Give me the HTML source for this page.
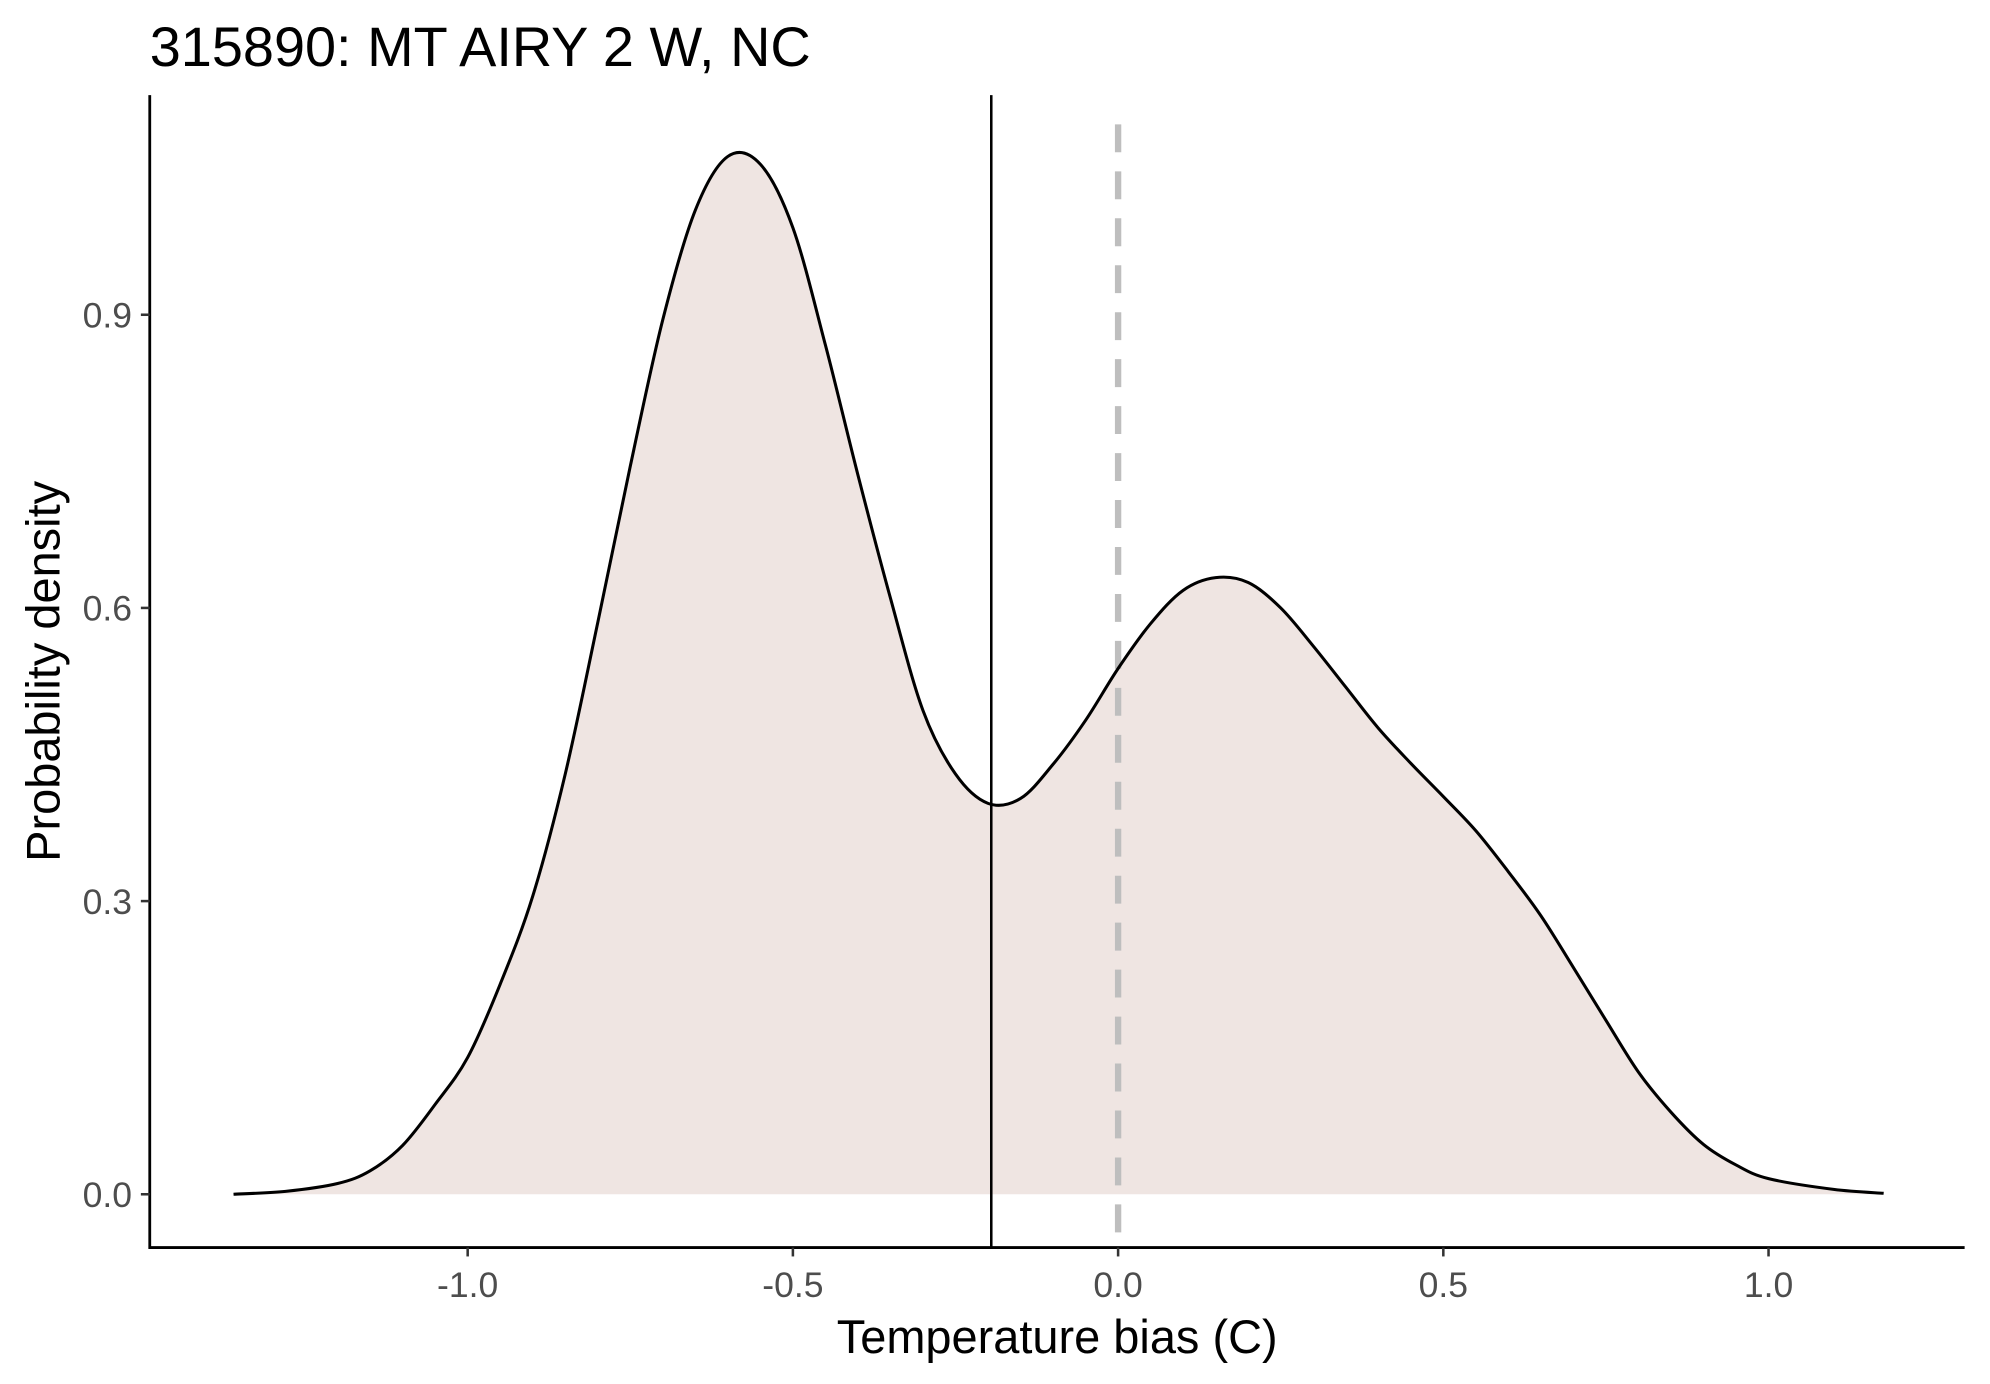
<!DOCTYPE html>
<html><head><meta charset="utf-8"><style>
html,body{margin:0;padding:0;background:#fff;}
svg{display:block;}
text{font-family:"Liberation Sans",Arial,sans-serif;}
</style></head>
<body>
<svg id="chart" width="1990" height="1384" viewBox="0 0 1568 1090.5" preserveAspectRatio="none" xmlns="http://www.w3.org/2000/svg">
<rect width="1568" height="1090.5" fill="#fff"/>
<text x="118" y="52" font-size="44" fill="#000">315890: MT AIRY 2 W, NC</text>
<g id="plot"></g>
<text x="833" y="1066" font-size="37" text-anchor="middle" fill="#000">Temperature bias (C)</text>
<text transform="translate(47,529) rotate(-90)" font-size="37" text-anchor="middle" fill="#000">Probability density</text>
</svg>
<script>
const xs = [-1.36,-1.28,-1.2,-1.15,-1.1,-1.05,-1.0,-0.95,-0.9,-0.85,-0.8,-0.75,-0.7,-0.65,-0.6,-0.55,-0.5,-0.45,-0.4,-0.35,-0.3,-0.25,-0.2,-0.15,-0.1,-0.05,0,0.05,0.1,0.15,0.2,0.25,0.3,0.35,0.4,0.45,0.5,0.55,0.6,0.65,0.7,0.75,0.8,0.85,0.9,0.95,1.0,1.1,1.177];
const ys = [0.0,0.003,0.011,0.024,0.05,0.092,0.14,0.215,0.305,0.43,0.585,0.745,0.895,1.007,1.062,1.054,0.989,0.869,0.736,0.61,0.495,0.43,0.40,0.405,0.44,0.485,0.538,0.584,0.618,0.631,0.626,0.600,0.561,0.519,0.477,0.441,0.407,0.372,0.33,0.285,0.232,0.178,0.125,0.084,0.051,0.030,0.016,0.005,0.001];
const xTicks = [-1.0,-0.5,0.0,0.5,1.0];
const xTickLabels = ["-1.0","-0.5","0.0","0.5","1.0"];
const yTicks = [0.0,0.3,0.6,0.9];
const yTickLabels = ["0.0","0.3","0.6","0.9"];
const meanBias = [-0.195];
const zeroLine = [0.0];

const NS="http://www.w3.org/2000/svg";
const X = v => 881 + v*512.5;
const Y = v => 941 - v*770;
const g = document.getElementById('plot');
function mk(tag, attrs){const e=document.createElementNS(NS,tag);for(const k in attrs)e.setAttribute(k,attrs[k]);g.appendChild(e);return e;}

const P = xs.map((x,i)=>[X(x),Y(ys[i])]);
let d = `M${P[0][0]},${P[0][1]}`;
for(let i=0;i<P.length-1;i++){
  const p0=P[i-1]||P[i], p1=P[i], p2=P[i+1], p3=P[i+2]||P[i+1];
  const c1=[p1[0]+(p2[0]-p0[0])/6, p1[1]+(p2[1]-p0[1])/6];
  const c2=[p2[0]-(p3[0]-p1[0])/6, p2[1]-(p3[1]-p1[1])/6];
  d+=` C${c1[0]},${c1[1]} ${c2[0]},${c2[1]} ${p2[0]},${p2[1]}`;
}
const area = mk('path',{d: d+` L${P[P.length-1][0]},${Y(0)} L${P[0][0]},${Y(0)} Z`, fill:'#efe5e2', stroke:'none'});



const zl = mk('line',{x1:X(zeroLine[0]),x2:X(zeroLine[0]),y1:98,y2:983,stroke:'#bebebe','stroke-width':5,'stroke-dasharray':'22 15'});



const ml = mk('line',{x1:X(meanBias[0]),x2:X(meanBias[0]),y1:75,y2:983,stroke:'#000','stroke-width':2});



const curve = mk('path',{d:d,fill:'none',stroke:'#000','stroke-width':2.4});



const ya = mk('line',{x1:118,x2:118,y1:75,y2:984,stroke:'#000','stroke-width':2.2});


const xa = mk('line',{x1:117,x2:1548,y1:983,y2:983,stroke:'#000','stroke-width':2.2});



xTicks.forEach((v,i)=>{
  const t = mk('line',{x1:X(v),x2:X(v),y1:983,y2:990,stroke:'#333','stroke-width':2});
  
  
  const l = mk('text',{x:X(v),y:1022,'font-size':28,'text-anchor':'middle',fill:'#4d4d4d'});
  l.textContent = xTickLabels[i];
  
  
});
yTicks.forEach((v,i)=>{
  const t = mk('line',{x1:111,x2:118,y1:Y(v),y2:Y(v),stroke:'#333','stroke-width':2});
  
  
  const l = mk('text',{x:104,y:Y(v)+10,'font-size':28,'text-anchor':'end',fill:'#4d4d4d'});
  l.textContent = yTickLabels[i];
  
  
});
</script>
</body></html>
